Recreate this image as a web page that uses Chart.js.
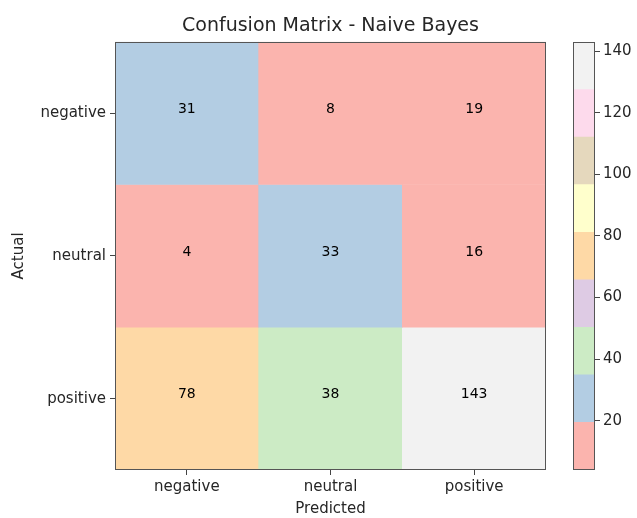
<!DOCTYPE html>
<html>
<head>
<meta charset="utf-8">
<script src="https://cdn.jsdelivr.net/npm/chart.js@4/dist/chart.umd.min.js"></script>
<style>
  body { margin: 0; background: #fff; }
  #wrap { position: relative; width: 637px; height: 518px; }
  #matrix { position: absolute; left: 0; top: 0; }
  #colorbar { position: absolute; left: 560px; top: 0; }
</style>
</head>
<body>
<div id="wrap">
  <canvas id="matrix" width="560" height="518"></canvas>
  <canvas id="colorbar" width="77" height="518"></canvas>
</div>
<script>
// data
const actualLabels = ['negative', 'neutral', 'positive'];
const predictedLabels = ['negative', 'neutral', 'positive'];
const counts = [
    [31, 8, 19],
    [4, 33, 16],
    [78, 38, 143]
];
const colorbarTicks = [20, 40, 60, 80, 100, 120, 140];
// Pastel1 colormap
const pastel1 = ['#fbb4ae', '#b3cde3', '#ccebc5', '#decbe4', '#fed9a6', '#ffffcc', '#e5d8bd', '#fddaec', '#f2f2f2'];

const allValues = counts.flat();
const vmin = Math.min(...allValues);
const vmax = Math.max(...allValues);

function colorFor(v) {
    let idx = Math.floor((v - vmin) / (vmax - vmin) * pastel1.length);
    if (idx >= pastel1.length) idx = pastel1.length - 1;
    return pastel1[idx];
}

const font = "'DejaVu Sans', sans-serif";
const textColor = '#262626';

const frame = {
    id: 'frame',
    afterDraw(chart) {
        const a = chart.chartArea;
        const ctx = chart.ctx;
        ctx.save();
        ctx.strokeStyle = '#555';
        ctx.lineWidth = 1;
        ctx.strokeRect(Math.round(a.left) + 0.5, Math.round(a.top) + 0.5, Math.round(a.right - a.left) - 1, Math.round(a.bottom - a.top) - 1);
        ctx.restore();
    }
};

const cellText = {
    id: 'cellText',
    afterDatasetsDraw(chart) {
        const ctx = chart.ctx;
        const xs = chart.scales.x, ys = chart.scales.y;
        ctx.save();
        ctx.font = '14px ' + font;
        ctx.fillStyle = '#000';
        ctx.textAlign = 'center';
        ctx.textBaseline = 'middle';
        counts.forEach((row, r) => {
            row.forEach((v, c) => {
                ctx.fillText(String(v), xs.getPixelForValue(c), ys.getPixelForValue(r + 0.5) - 4);
            });
        });
        ctx.restore();
    }
};

new Chart(document.getElementById('matrix'), {
    type: 'bar',
    data: {
        labels: predictedLabels,
        datasets: counts.map((row, r) => ({
            label: actualLabels[r],
            data: row.map(() => [r, r + 1]),
            backgroundColor: row.map(colorFor),
            borderWidth: 0,
            barPercentage: 1,
            categoryPercentage: 1,
            grouped: false
        }))
    },
    options: {
        responsive: false,
        animation: false,
        layout: { padding: { left: 0, right: 14, top: 0, bottom: 0 } },
        plugins: {
            legend: { display: false },
            tooltip: { enabled: false },
            title: {
                display: true,
                text: 'Confusion Matrix - Naive Bayes',
                fullSize: false,
                color: textColor,
                font: { family: font, size: 19, weight: 'normal' },
                padding: { top: 15, bottom: 4 }
            }
        },
        scales: {
            x: {
                grid: { offset: false, drawOnChartArea: false, tickLength: 5, color: '#444' },
                border: { display: false },
                ticks: { color: textColor, font: { family: font, size: 15 }, padding: 3 },
                title: { display: true, text: 'Predicted', color: textColor, font: { family: font, size: 15 }, padding: 0 },
                afterFit: s => { s.height = 48; }
            },
            y: {
                min: 0,
                max: 3,
                reverse: true,
                grid: { drawOnChartArea: false, tickLength: 5, color: '#444' },
                border: { display: false },
                afterBuildTicks: s => { s.ticks = actualLabels.map((_, i) => ({ value: i + 0.5 })); },
                ticks: {
                    color: textColor,
                    font: { family: font, size: 15 },
                    padding: 4,
                    callback: v => actualLabels[Math.floor(v)]
                },
                title: { display: true, text: 'Actual', color: textColor, font: { family: font, size: 15 }, padding: { top: 10, bottom: 0 } },
                afterFit: s => { s.width = 115; }
            }
        }
    },
    plugins: [cellText, frame]
});

// colorbar bands
const nBands = pastel1.length;
const bandEdges = pastel1.map((_, i) => vmin + i * (vmax - vmin) / nBands).concat([vmax]);

new Chart(document.getElementById('colorbar'), {
    type: 'bar',
    data: {
        labels: [''],
        datasets: pastel1.map((col, i) => ({
            data: [[bandEdges[i], bandEdges[i + 1]]],
            backgroundColor: col,
            borderWidth: 0,
            barPercentage: 1,
            categoryPercentage: 1,
            grouped: false
        }))
    },
    options: {
        responsive: false,
        animation: false,
        layout: { padding: { left: 13, right: 0, top: 42, bottom: 48 } },
        plugins: { legend: { display: false }, tooltip: { enabled: false } },
        scales: {
            x: { display: false },
            y: {
                position: 'right',
                min: vmin,
                max: vmax,
                grid: { drawOnChartArea: false, tickLength: 5, color: '#444' },
                border: { display: false },
                afterBuildTicks: s => { s.ticks = colorbarTicks.map(v => ({ value: v })); },
                ticks: { color: textColor, font: { family: font, size: 15 }, padding: 3 },
                afterFit: s => { s.width = 42; }
            }
        }
    },
    plugins: [frame]
});
</script>
</body>
</html>
